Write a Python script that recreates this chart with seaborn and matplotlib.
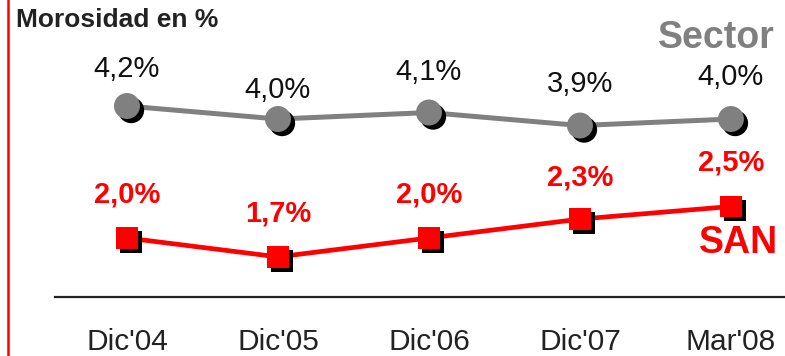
import pandas as pd
import matplotlib.pyplot as plt
import matplotlib.patheffects as pe
from matplotlib.lines import Line2D
import seaborn as sns

# Data
periods = ["Dic'04", "Dic'05", "Dic'06", "Dic'07", "Mar'08"]
sector = [4.2, 4.0, 4.1, 3.9, 4.0]
san = [2.0, 1.7, 2.0, 2.3, 2.5]

# label offsets above the points (points)
sector_offsets = [27, 21, 29, 30, 30]
san_offsets = [31, 31, 31, 30, 32]

df = pd.DataFrame({'periodo': periods, 'Sector': sector, 'SAN': san})

sns.set_style('white')
plt.rcParams['font.family'] = ['Liberation Sans', 'DejaVu Sans']

fig = plt.figure(figsize=(7.85, 3.56), dpi=100)
ax = fig.add_axes([0.070, 0.1657, 0.930, 0.8343])
ax2 = ax.twinx()

shadow = [pe.SimplePatchShadow(offset=(3, -3), shadow_rgbFace='black', alpha=1), pe.Normal()]

# SAN (red squares)
sns.lineplot(data=df, x='periodo', y='SAN', ax=ax, color='#ff0000', linewidth=3.4, sort=False)
sns.scatterplot(data=df, x='periodo', y='SAN', ax=ax, color='#ff0000', marker='s', s=240,
                edgecolor='none', zorder=5, path_effects=shadow)

# Sector (grey circles)
sns.lineplot(data=df, x='periodo', y='Sector', ax=ax2, color='#808080', linewidth=3.6, sort=False)
sns.scatterplot(data=df, x='periodo', y='Sector', ax=ax2, color='#808080', marker='o', s=350,
                edgecolor='none', zorder=5, path_effects=shadow)

for i, v in enumerate(san):
    ax.annotate(f'{v:.1f}%'.replace('.', ','), (i, v), xytext=(0, san_offsets[i]),
                textcoords='offset points', ha='center', va='center',
                fontsize=21, fontweight='bold', color='#ff0000')
for i, v in enumerate(sector):
    ax2.annotate(f'{v:.1f}%'.replace('.', ','), (i, v), xytext=(0, sector_offsets[i]),
                 textcoords='offset points', ha='center', va='center',
                 fontsize=21, color='#111111')

ax.set_xlim(-0.477, 4.358)
ax.set_ylim(1.063, 5.778)
ax2.set_ylim(1.262, 5.831)

for a in (ax, ax2):
    a.set_xlabel('')
    a.set_ylabel('')
    a.set_yticks([])
    for s in ('top', 'right', 'left', 'bottom'):
        a.spines[s].set_visible(False)
    a.patch.set_visible(False)

ax.spines['bottom'].set_visible(True)
ax.spines['bottom'].set_color('#222222')
ax.spines['bottom'].set_linewidth(1.6)
ax.tick_params(axis='x', length=0, pad=22, labelsize=21.5, labelcolor='#222222')

fig.add_artist(Line2D([0.0102, 0.0102], [0, 1], color='#ff0000', linewidth=1.8))
fig.text(0.0204, 0.944, 'Morosidad en %', fontsize=19, fontweight='bold', color='#222222',
         ha='left', va='center')
fig.text(0.987, 0.893, 'Sector', fontsize=27, fontweight='bold', color='#808080',
         ha='right', va='center')
fig.text(0.991, 0.317, 'SAN', fontsize=27, fontweight='bold', color='#ff0000',
         ha='right', va='center')

fig.savefig('out.png', dpi=100)
